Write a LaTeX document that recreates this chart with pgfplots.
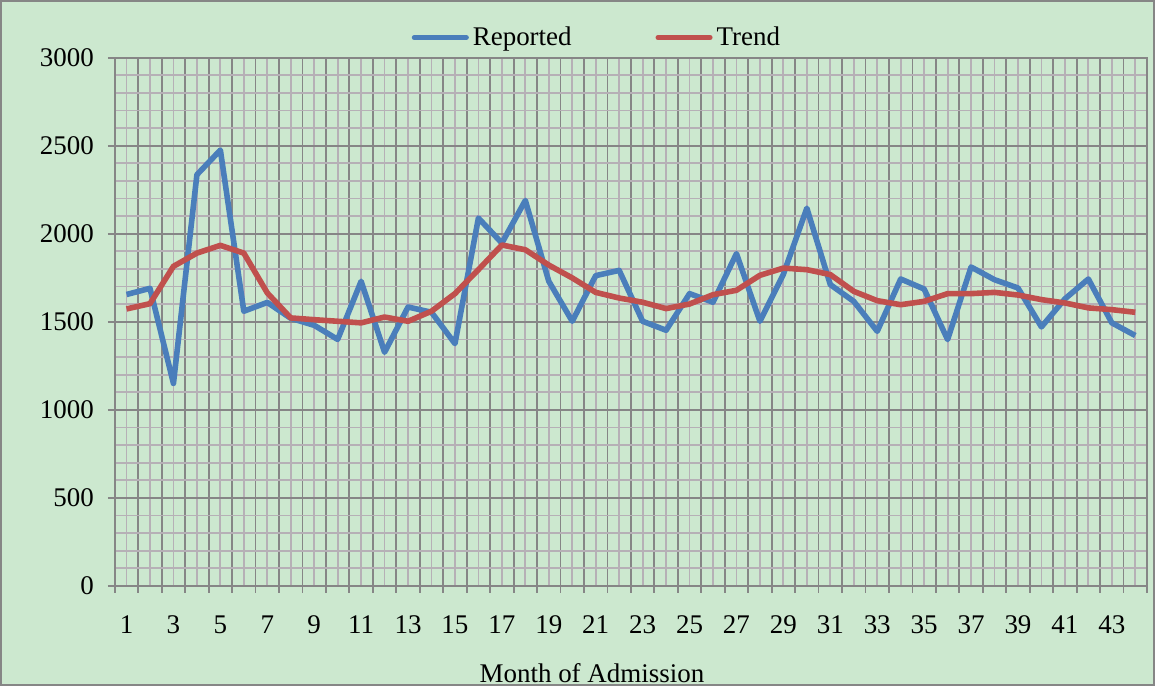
\documentclass[border=0pt]{standalone}
\usepackage{pgfplots}
\pgfplotsset{compat=1.18}
\usepackage{pgfplotstable}
\usepackage{fontspec}
\setmainfont{Liberation Serif}
\definecolor{bg}{RGB}{204,232,207}
\definecolor{majgrid}{RGB}{134,134,134}
\definecolor{mingrid}{RGB}{182,176,182}
\definecolor{rep}{RGB}{74,126,187}
\definecolor{trend}{RGB}{192,80,77}
\pgfplotstableread{
m rep trend
1 1655 1573
2 1690 1603
3 1150 1815
4 2335 1890
5 2475 1934
6 1560 1890
7 1610 1664
8 1520 1522
9 1480 1512
10 1400 1503
11 1730 1494
12 1327 1527
13 1584 1503
14 1554 1560
15 1376 1660
16 2089 1796
17 1947 1936
18 2189 1909
19 1730 1822
20 1503 1749
21 1762 1667
22 1792 1635
23 1503 1611
24 1452 1575
25 1660 1601
26 1611 1654
27 1887 1679
28 1503 1764
29 1770 1805
30 2145 1796
31 1711 1768
32 1616 1673
33 1446 1620
34 1743 1597
35 1686 1616
36 1399 1660
37 1811 1660
38 1739 1667
39 1692 1652
40 1471 1626
41 1630 1607
42 1743 1579
43 1494 1569
44 1422 1554
}\datatable
\begin{document}
\begin{tikzpicture}[font=\fontsize{13.5}{16}\selectfont]
\fill[bg, draw=majgrid, line width=1pt] (-57pt,-49.5pt) rectangle (520.5pt,293pt);
\begin{axis}[
  at={(0,0)}, anchor=south west,
  scale only axis, width=517pt, height=264.65pt,
  xmin=0.5, xmax=44.5, ymin=0, ymax=3000,
  xtick={0.5,1.5,...,44.5}, xticklabels={},
  minor xtick={1,2,...,44},
  ytick={0,500,...,3000},
  minor y tick num=4,
  grid=both,
  major grid style={majgrid, line width=0.9pt},
  minor grid style={mingrid, line width=0.9pt},
  axis line style={majgrid, line width=1pt},
  tick align=outside,
  tick style={majgrid, line width=0.9pt},
  major tick length=3.5pt,
  minor tick length=0pt,
  xtick pos=bottom, ytick pos=left,
  extra x ticks={1,3,...,43},
  extra x tick style={grid=none, major tick length=0pt},
  /pgf/number format/assume math mode=true,
  /pgf/number format/1000 sep={},
  xticklabel style={yshift=-11.5pt},
  yticklabel style={xshift=-3.5pt},
  scaled y ticks=false,
  xlabel={Month of Admission},
  every axis x label/.style={at={(axis description cs:0.4623,0)}, anchor=base, yshift=-48.5pt, inner sep=0pt},
  legend style={at={(0.468,1.038)}, anchor=center, draw=none, fill=none,
    legend columns=2, /tikz/every even column/.append style={column sep=40pt},
    font=\fontsize{13.5}{16}\selectfont},
  legend cell align=left,
  legend image code/.code={\draw[#1, line width=2.6pt, line cap=round] (0pt,0pt) -- (26pt,0pt);},
]
\addplot[rep, line width=2.8pt, line join=round] table[x=m, y=rep] {\datatable};
\addlegendentry{Reported}
\addplot[trend, line width=2.8pt, line join=round] table[x=m, y=trend] {\datatable};
\addlegendentry{Trend}
\end{axis}
\pgfresetboundingbox
\path[use as bounding box] (-57.5pt,-50pt) rectangle (521pt,293.5pt);
\end{tikzpicture}
\end{document}
